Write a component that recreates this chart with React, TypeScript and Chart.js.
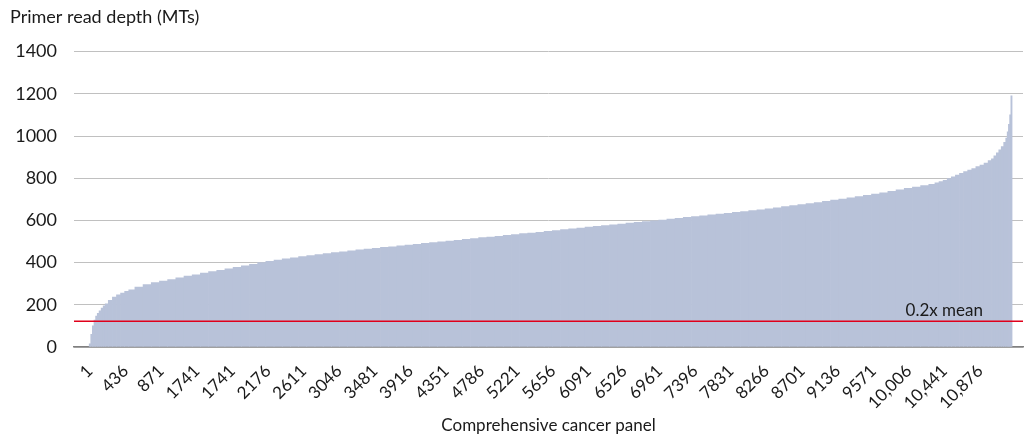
import React, { useEffect, useRef } from "react";
import { Chart, registerables } from "chart.js";

Chart.register(...registerables);

// Primer rank (sorted by read depth) for each sampled bar
const PRIMER_RANK = [
  1, 20, 40, 60, 80, 100, 125, 150, 175, 200, 250, 300, 350, 400, 450, 500,
  600, 700, 800, 900, 1000, 1100, 1200, 1300, 1400, 1500, 1600, 1700, 1800, 1900,
  2000, 2100, 2200, 2300, 2400, 2500, 2600, 2700, 2800, 2900,
  3000, 3100, 3200, 3300, 3400, 3500, 3600, 3700, 3800, 3900,
  4000, 4100, 4200, 4300, 4400, 4500, 4600, 4700, 4800, 4900,
  5000, 5100, 5200, 5300, 5400, 5500, 5600, 5700, 5800, 5900,
  6000, 6100, 6200, 6300, 6400, 6500, 6600, 6700, 6800, 6900,
  7000, 7100, 7200, 7300, 7400, 7500, 7600, 7700, 7800, 7900,
  8000, 8100, 8200, 8300, 8400, 8500, 8600, 8700, 8800, 8900,
  9000, 9100, 9200, 9300, 9400, 9500, 9600, 9700, 9800, 9900,
  10000, 10100, 10200, 10300,
  10350, 10400, 10450, 10500, 10550, 10600, 10650, 10700, 10750, 10800, 10850, 10900, 10950, 11000,
  11030, 11060, 11090, 11120, 11150, 11180, 11200, 11215, 11230, 11245, 11260,
];

// Read depth (MTs) for each sampled primer
const READ_DEPTH = [
  15, 60, 100, 128, 146, 160, 172, 185, 195, 205, 221, 236, 247, 256, 264, 271,
  284, 296, 305, 313, 320, 328, 336, 342, 350, 357, 363, 370, 377, 385,
  392, 400, 406, 412, 418, 423, 428, 433, 438, 443,
  447, 451, 456, 460, 464, 468, 472, 475, 479, 483,
  487, 491, 495, 498, 502, 506, 510, 514, 518, 521,
  525, 529, 533, 537, 540, 544, 548, 552, 556, 560,
  564, 568, 572, 575, 579, 583, 587, 591, 594, 598,
  602, 606, 610, 614, 618, 622, 626, 630, 634, 638,
  642, 646, 650, 655, 660, 665, 670, 675, 680, 685,
  690, 696, 701, 707, 713, 719, 725, 731, 738, 745,
  752, 758, 765, 771,
  778, 784, 790, 798, 806, 815, 823, 831, 839, 846, 855, 862, 872, 884,
  892, 906, 920, 935, 950, 970, 990, 1020, 1055, 1100, 1190,
];

const X_TICK_RANKS = [
  1, 436, 871, 1306, 1741, 2176, 2611, 3046, 3481, 3916, 4351, 4786, 5221,
  5656, 6091, 6526, 6961, 7396, 7831, 8266, 8701, 9136, 9571, 10006, 10441, 10876,
];
const X_TICK_LABELS = [
  "1", "436", "871", "1741", "1741", "2176", "2611", "3046", "3481", "3916",
  "4351", "4786", "5221", "5656", "6091", "6526", "6961", "7396", "7831",
  "8266", "8701", "9136", "9571", "10,006", "10,441", "10,876",
];

const X_MIN = -194;
const X_MAX = 11401;
const THRESHOLD = 122;
const THRESHOLD_LABEL = "0.2x mean";
const Y_TITLE = "Primer read depth (MTs)";
const X_TITLE = "Comprehensive cancer panel";

const FONT = "Lato, 'DejaVu Sans', sans-serif";
const TEXT = "#1a1a1a";

export default function App() {
  const ref = useRef<HTMLCanvasElement | null>(null);

  useEffect(() => {
    if (!ref.current) return;
    const labelPlugin = {
      id: "thresholdLabel",
      afterDatasetsDraw(chart: any) {
        const { ctx, chartArea, scales } = chart;
        const y = scales.y.getPixelForValue(THRESHOLD);
        ctx.save();
        ctx.font = `17px ${FONT}`;
        ctx.fillStyle = TEXT;
        ctx.textAlign = "right";
        ctx.textBaseline = "bottom";
        ctx.fillText(THRESHOLD_LABEL, chartArea.right - 40, y - 2);
        ctx.restore();
      },
    };

    const chart = new Chart(ref.current, {
      type: "bar",
      data: {
        datasets: [
          {
            type: "bar",
            data: PRIMER_RANK.map((r, i) => ({ x: r, y: READ_DEPTH[i] })),
            backgroundColor: "#b8c2d9",
            borderWidth: 0,
            barThickness: "flex",
            categoryPercentage: 1,
            barPercentage: 1,
            order: 1,
          } as any,
          {
            type: "line",
            data: [
              { x: X_MIN, y: THRESHOLD },
              { x: X_MAX, y: THRESHOLD },
            ],
            borderColor: "#e0001b",
            borderWidth: 1.5,
            pointRadius: 0,
            order: -1,
          } as any,
        ],
      },
      options: {
        animation: false,
        responsive: false,
        events: [],
        layout: { padding: { left: 10, right: 2, top: 0, bottom: 0 } },
        plugins: {
          legend: { display: false },
          tooltip: { enabled: false },
          title: {
            display: true,
            text: Y_TITLE,
            align: "start",
            color: TEXT,
            font: { family: FONT, size: 18, weight: "normal" },
            padding: { top: 6, bottom: 24 },
          },
        },
        scales: {
          x: {
            type: "linear",
            offset: false,
            min: X_MIN,
            max: X_MAX,
            afterBuildTicks: (scale: any) => {
              scale.ticks = X_TICK_RANKS.map((value) => ({ value }));
            },
            afterFit: (scale: any) => {
              scale.height = 90;
            },
            grid: { display: true, color: "transparent", drawTicks: false, offset: false },
            border: { display: true, color: "#808080", width: 1.5 },
            ticks: {
              autoSkip: false,
              maxRotation: 45,
              minRotation: 45,
              padding: 14,
              color: TEXT,
              font: { family: FONT, size: 17 },
              callback: (_v: any, index: number) => X_TICK_LABELS[index],
            },
            title: {
              display: true,
              text: X_TITLE,
              color: TEXT,
              font: { family: FONT, size: 17 },
              padding: { top: 0, bottom: 1 },
            },
          },
          y: {
            min: 0,
            max: 1400,
            afterFit: (scale: any) => {
              scale.width = 64;
            },
            grid: { color: "#c0c0c0", lineWidth: 1, drawTicks: false },
            border: { display: false },
            ticks: {
              stepSize: 200,
              padding: 17,
              color: TEXT,
              font: { family: FONT, size: 18 },
              callback: (v: any) => String(v),
            },
          },
        },
      },
      plugins: [labelPlugin],
    });
    return () => chart.destroy();
  }, []);

  return (
    <div style={{ position: "absolute", left: 0, top: 0, width: 1025, height: 437 }}>
      <canvas ref={ref} width={1025} height={437} />
    </div>
  );
}
